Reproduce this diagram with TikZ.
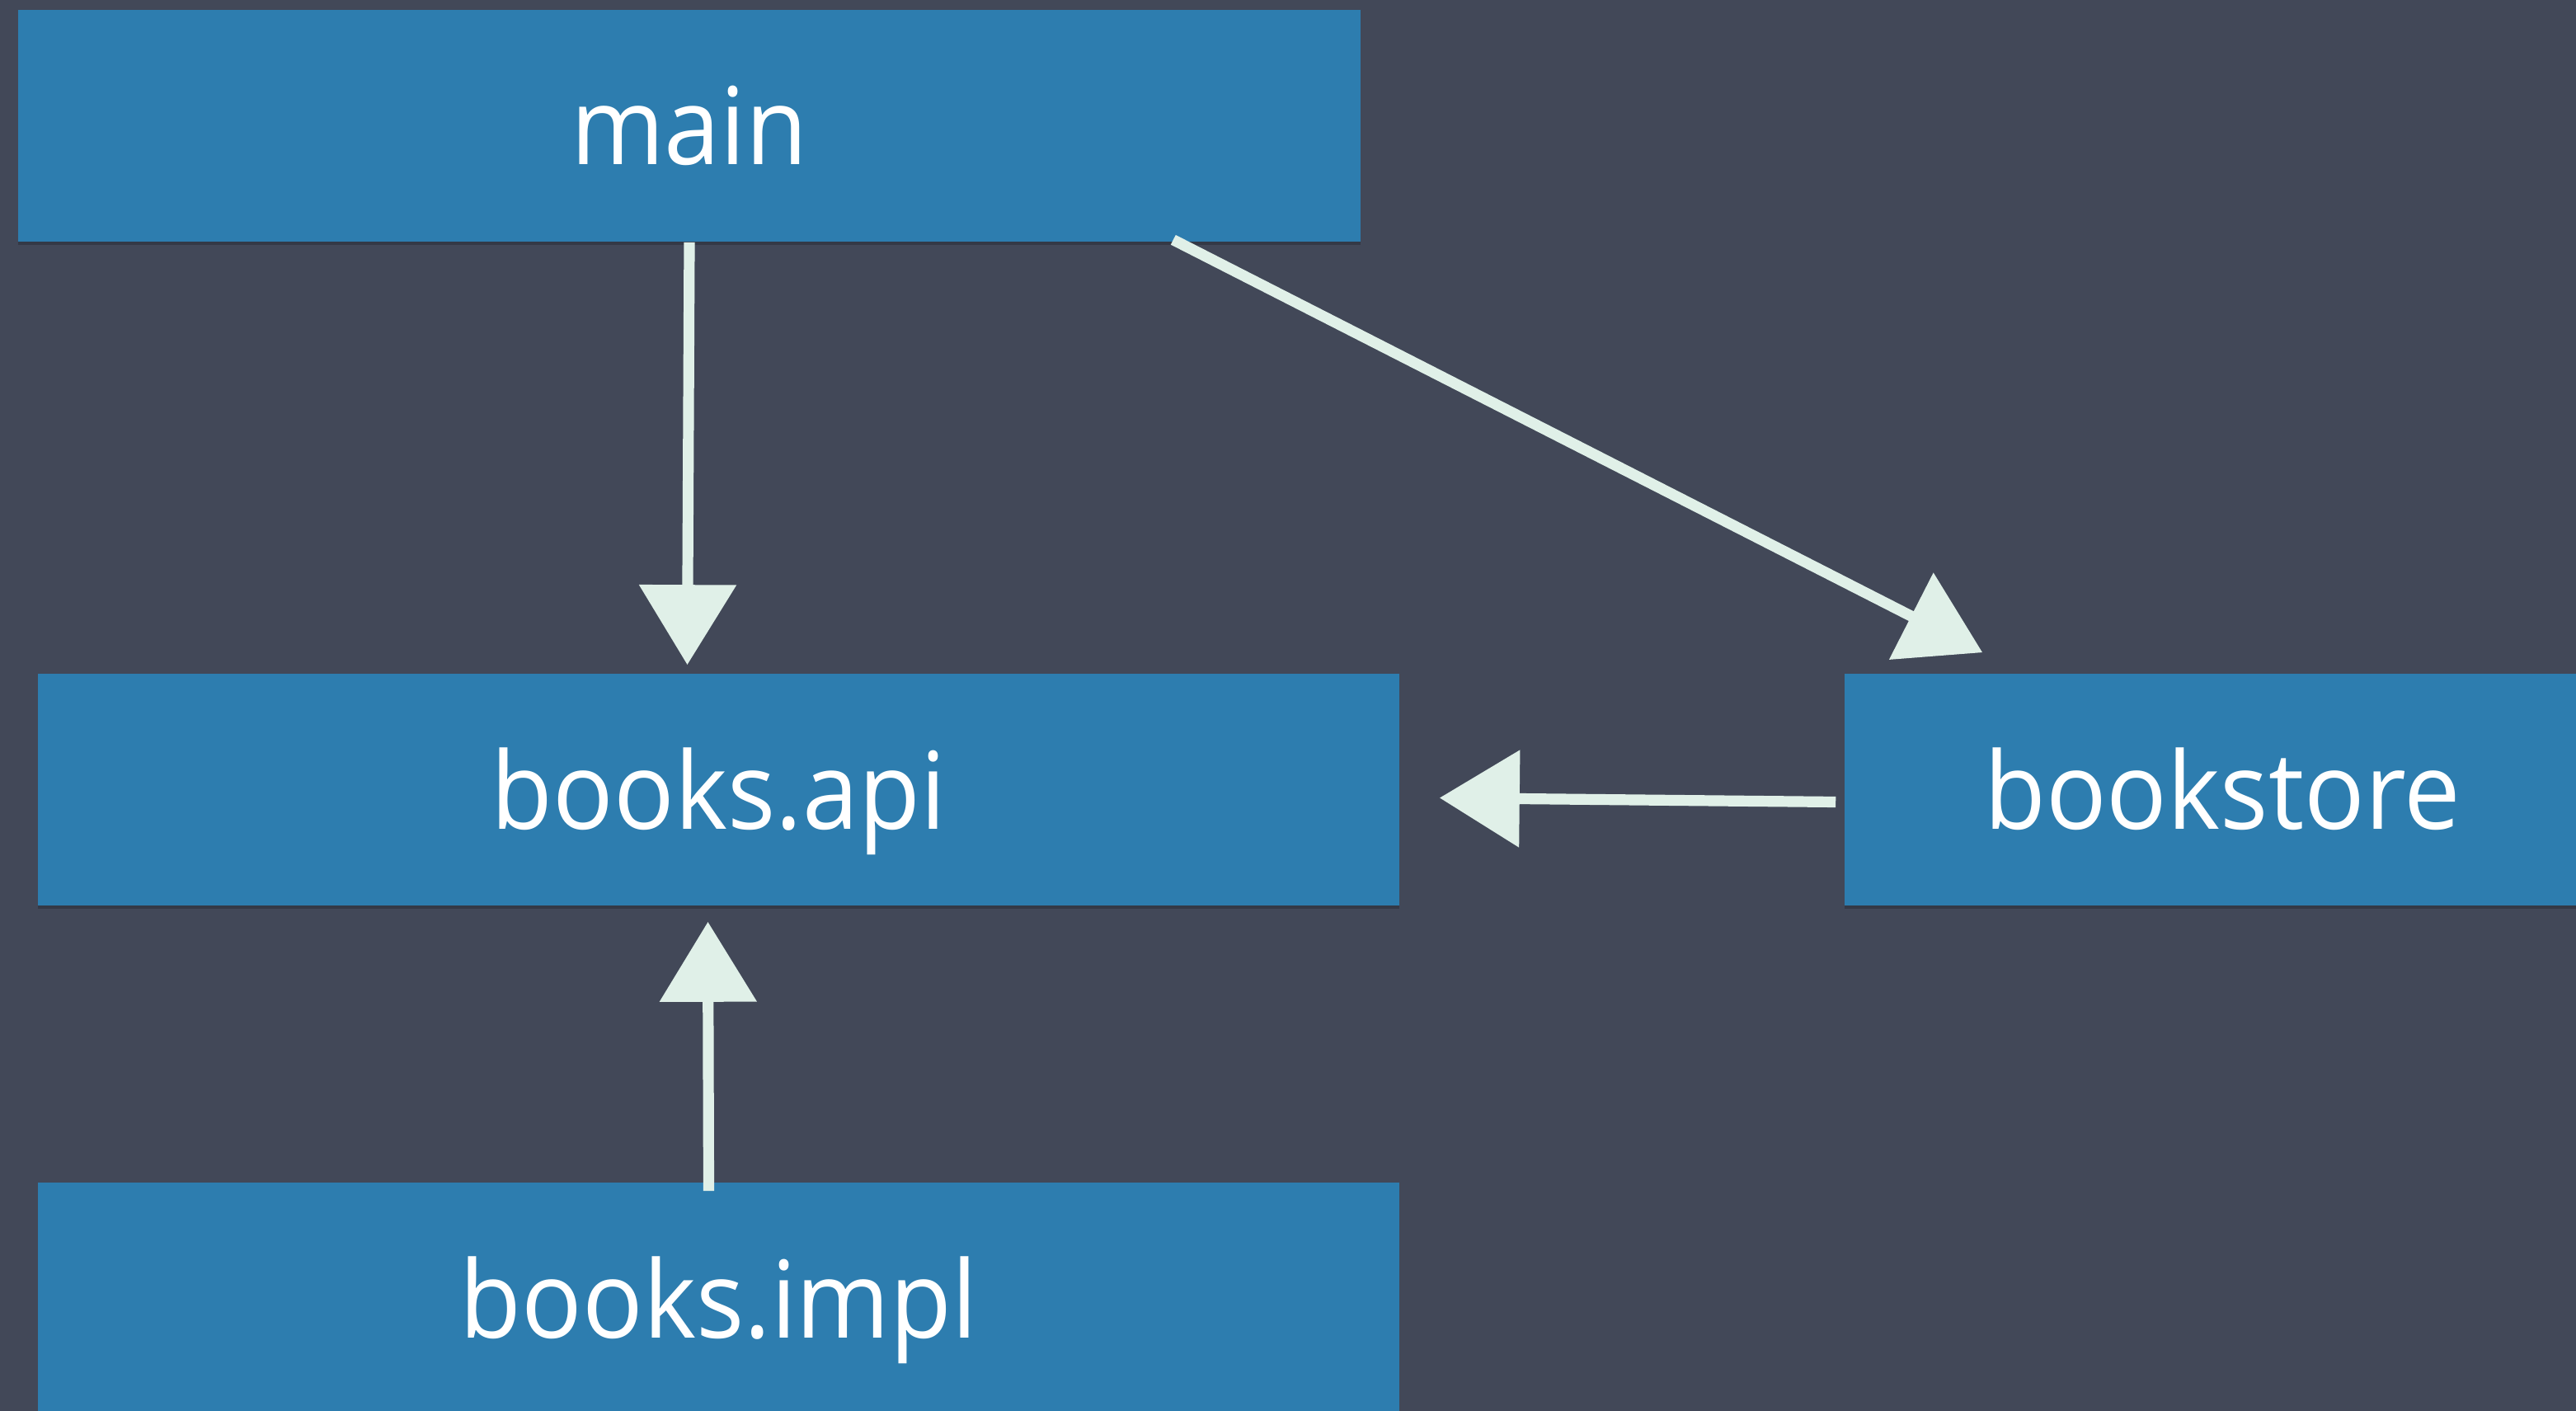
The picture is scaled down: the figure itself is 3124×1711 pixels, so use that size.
\documentclass[tikz,border=0pt]{standalone}
\usepackage{fontspec}
\setmainfont{Open Sans}[FakeStretch=0.94]
\usetikzlibrary{arrows.meta,calc,shadows}
\definecolor{slate}{HTML}{424858}
\definecolor{tileblue}{HTML}{2D7DAF}
\definecolor{chalk}{HTML}{E0F0E8}
\begin{document}
\begin{tikzpicture}[x=0.25pt,y=-0.25pt,
  tile/.style={fill=tileblue, draw=none, inner sep=0pt, text=white,
    font=\fontsize{32.5}{39}\selectfont,
    text height=23.75pt, text depth=0pt, minimum height=70.25pt,
    drop shadow={opacity=0.2, shadow xshift=0pt, shadow yshift=-1pt, fill=black}},
  link/.style={draw=chalk, line width=3.3pt,
    -{Triangle[length=24.25pt,width=28.75pt]}}]
  % page and background
  \useasboundingbox (0,0) rectangle (3124,1711);
  \clip (0,0) rectangle (3124,1711);
  \fill[slate] (0,0) rectangle (3124,1711);

  % modules
  \node[tile, minimum width=407pt]    (main)  at (836,152.5)   {main};
  \node[tile, minimum width=412.75pt] (api)   at (871.5,957.5) {books.api};
  \node[tile, minimum width=229pt]    (store) at (2695,957.5)  {bookstore};
  \node[tile, minimum width=412.75pt] (impl)  at (871.5,1574.5) {books.impl};

  % dependencies
  \draw[link] (main.south) -- ($(api.north)+(-38,-10)$);
  \draw[link] ($(main.south east)+(-228,-3)$) -- ($(store.north west)+(168,-25)$);
  \draw[link] ($(store.west)+(-10,15)$) -- ($(api.east)+(48,10)$);
  \draw[link] ($(impl.north)+(-12,11)$) -- ($(api.south)+(-13,19)$);
\end{tikzpicture}
\end{document}
